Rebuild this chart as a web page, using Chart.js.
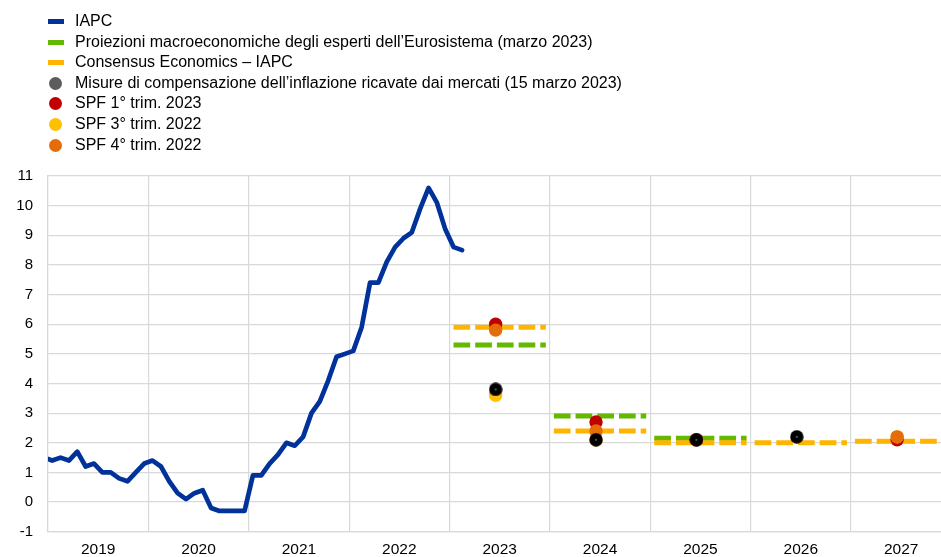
<!DOCTYPE html>
<html><head><meta charset="utf-8">
<script src="https://cdn.jsdelivr.net/npm/chart.js@4.4.1/dist/chart.umd.min.js"></script>
<style>
html,body{margin:0;padding:0;background:#fff;}
#wrap{position:relative;width:941px;height:557px;overflow:hidden;background:#fff;}
#c{position:absolute;left:0;top:0;}
#legend{position:absolute;left:0;top:11px;font-family:'Liberation Sans',Arial,sans-serif;font-size:16px;color:#000;}
.row{position:relative;height:20.6px;line-height:20.6px;white-space:nowrap;}
.mk{position:absolute;}
.txt{position:absolute;left:75px;top:0;}
</style></head><body>
<div id="wrap"><canvas id="c" width="941" height="557"></canvas><div id="legend"></div></div>
<script>
// ---- data ----
const hicpMonths = [
 '2018-12',
 '2019-01','2019-02','2019-03','2019-04','2019-05','2019-06','2019-07','2019-08','2019-09','2019-10','2019-11','2019-12',
 '2020-01','2020-02','2020-03','2020-04','2020-05','2020-06','2020-07','2020-08','2020-09','2020-10','2020-11','2020-12',
 '2021-01','2021-02','2021-03','2021-04','2021-05','2021-06','2021-07','2021-08','2021-09','2021-10','2021-11','2021-12',
 '2022-01','2022-02','2022-03','2022-04','2022-05','2022-06','2022-07','2022-08','2022-09','2022-10','2022-11','2022-12',
 '2023-01','2023-02'];
const hicpValues = [
 1.5,
 1.4,1.5,1.4,1.7,1.2,1.3,1.0,1.0,0.8,0.7,1.0,1.3,
 1.4,1.2,0.7,0.3,0.1,0.3,0.4,-0.2,-0.3,-0.3,-0.3,-0.3,
 0.9,0.9,1.3,1.6,2.0,1.9,2.2,3.0,3.4,4.1,4.9,5.0,
 5.1,5.9,7.4,7.4,8.1,8.6,8.9,9.1,9.9,10.6,10.1,9.2,
 8.6,8.5];

const ecbYears = [2023, 2024, 2025];
const ecbValues = [5.3, 2.9, 2.15];

const consYears = [2023, 2024, 2025, 2026, 2027];
const consValues = [5.9, 2.4, 2.0, 2.0, 2.05];

const marketYears = [2023, 2024, 2025, 2026];
const marketValues = [3.8, 2.1, 2.1, 2.2];

const spfQ123Years = [2023, 2024, 2025, 2027];
const spfQ123Values = [6.0, 2.7, 2.1, 2.1];

const spfQ322Years = [2023, 2024, 2027];
const spfQ322Values = [3.6, 2.1, 2.2];

const spfQ422Years = [2023, 2024, 2027];
const spfQ422Values = [5.8, 2.4, 2.2];

const xTickYears = [2019, 2020, 2021, 2022, 2023, 2024, 2025, 2026, 2027];
const yTicks = [-1, 0, 1, 2, 3, 4, 5, 6, 7, 8, 9, 10, 11];

const labels = {
  hicp: 'IAPC',
  ecb: 'Proiezioni macroeconomiche degli esperti dell\u2019Eurosistema (marzo 2023)',
  cons: 'Consensus Economics \u2013 IAPC',
  market: 'Misure di compensazione dell\u2019inflazione ricavate dai mercati (15 marzo 2023)',
  q123: 'SPF 1\u00b0 trim. 2023',
  q322: 'SPF 3\u00b0 trim. 2022',
  q422: 'SPF 4\u00b0 trim. 2022'
};

// ---- styles ----
const C = {
  hicp: '#003299', ecb: '#65b800', cons: '#ffb400', market: '#000000', marketLegend: '#5c5c5c',
  q123: '#c00000', q322: '#ffc000', q422: '#e46c0a', grid: '#d9d9d9'
};

// ---- build points ----
const hicpPts = hicpMonths.map((m, i) => {
  const [y, mo] = m.split('-').map(Number);
  return {x: y + (mo - 0.5) / 12, y: hicpValues[i]};
});
function segPts(years, vals) {
  const out = [];
  years.forEach((yr, i) => {
    out.push({x: yr + 0.04, y: vals[i]});
    out.push({x: yr + 0.96, y: vals[i]});
    out.push({x: yr + 0.98, y: null});
  });
  return out;
}
function dotPts(years, vals) {
  return years.map((yr, i) => ({x: yr + 0.46, y: vals[i]}));
}

// black market dot with tiny light centre
const blackDot = document.createElement('canvas');
blackDot.width = 14; blackDot.height = 14;
{
  const g = blackDot.getContext('2d');
  g.fillStyle = '#000'; g.beginPath(); g.arc(7, 7, 6.7, 0, Math.PI * 2); g.fill();
  g.fillStyle = '#bbb'; g.beginPath(); g.arc(7, 7, 0.8, 0, Math.PI * 2); g.fill();
}

const FONT = "'Liberation Sans', Arial, sans-serif";
Chart.defaults.font.family = FONT;
Chart.defaults.color = '#000';

const xMin = 2019, xMax = 2027.897;

new Chart(document.getElementById('c'), {
  type: 'line',
  data: {
    datasets: [
      {label: labels.market, data: dotPts(marketYears, marketValues), showLine: false,
       pointStyle: blackDot, pointRadius: 7, backgroundColor: C.market, borderColor: C.market, order: 0},
      {label: labels.q422, data: dotPts(spfQ422Years, spfQ422Values), showLine: false,
       pointStyle: 'circle', pointRadius: 6.7, pointBorderWidth: 0, backgroundColor: C.q422, borderColor: C.q422, order: 1},
      {label: labels.q322, data: dotPts(spfQ322Years, spfQ322Values), showLine: false,
       pointStyle: 'circle', pointRadius: 6.7, pointBorderWidth: 0, backgroundColor: C.q322, borderColor: C.q322, order: 2},
      {label: labels.q123, data: dotPts(spfQ123Years, spfQ123Values), showLine: false,
       pointStyle: 'circle', pointRadius: 6.7, pointBorderWidth: 0, backgroundColor: C.q123, borderColor: C.q123, order: 3},
      {label: labels.cons, data: segPts(consYears, consValues), borderColor: C.cons, borderWidth: 5,
       borderDash: [16.7, 5], borderCapStyle: 'butt', pointRadius: 0, spanGaps: false, tension: 0, order: 4},
      {label: labels.ecb, data: segPts(ecbYears, ecbValues), borderColor: C.ecb, borderWidth: 5,
       borderDash: [16.7, 5], borderCapStyle: 'butt', pointRadius: 0, spanGaps: false, tension: 0, order: 5},
      {label: labels.hicp, data: hicpPts, borderColor: C.hicp, borderWidth: 4.7, pointRadius: 0,
       borderJoinStyle: 'round', borderCapStyle: 'round', tension: 0, order: 6}
    ]
  },
  options: {
    responsive: false,
    animation: false,
    events: [],
    layout: {autoPadding: false, padding: {top: 176, left: 0, right: 0, bottom: 0}},
    plugins: {legend: {display: false}, tooltip: {enabled: false}},
    scales: {
      x: {
        type: 'linear', min: xMin, max: xMax,
        afterBuildTicks: (s) => {
          const t = [];
          xTickYears.forEach(y => { t.push({value: y}); t.push({value: y + 0.5}); });
          s.ticks = t;
        },
        afterFit: (s) => { s.height = 25.3; s.paddingLeft = 0; s.paddingRight = 0; },
        grid: {
          color: (ctx) => (ctx.tick && Math.abs(ctx.tick.value % 1) < 1e-6) ? C.grid : 'rgba(0,0,0,0)',
          lineWidth: 1.2, drawTicks: false
        },
        border: {display: true, color: C.grid, width: 1.2},
        ticks: {
          autoSkip: false, maxRotation: 0, padding: 9, color: '#000',
          font: {size: 15.5, family: FONT},
          callback: (v) => (Math.abs(v % 1 - 0.5) < 1e-6) ? String(Math.floor(v)) : ''
        }
      },
      y: {
        type: 'linear', min: -1, max: 11,
        afterBuildTicks: (s) => { s.ticks = yTicks.map(v => ({value: v})); },
        afterFit: (s) => { s.width = 48; s.paddingTop = 0; s.paddingBottom = 0; },
        grid: {color: C.grid, lineWidth: 1.2, drawTicks: false},
        border: {display: true, color: C.grid, width: 1.2},
        ticks: {padding: 15, color: '#000', font: {size: 15, family: FONT}}
      }
    }
  }
});

// ---- HTML legend ----
const legendItems = [
  {text: labels.hicp, kind: 'line', color: C.hicp},
  {text: labels.ecb, kind: 'line', color: C.ecb},
  {text: labels.cons, kind: 'line', color: C.cons},
  {text: labels.market, kind: 'dot', color: C.marketLegend},
  {text: labels.q123, kind: 'dot', color: C.q123},
  {text: labels.q322, kind: 'dot', color: C.q322},
  {text: labels.q422, kind: 'dot', color: C.q422}
];
const lg = document.getElementById('legend');
legendItems.forEach(it => {
  const row = document.createElement('div'); row.className = 'row';
  const mk = document.createElement('div'); mk.className = 'mk';
  if (it.kind === 'line') {
    Object.assign(mk.style, {left: '48px', width: '16px', height: '5px', top: '8px', background: it.color});
  } else {
    Object.assign(mk.style, {left: '49px', width: '13px', height: '13px', top: '4px', borderRadius: '50%', background: it.color});
  }
  const tx = document.createElement('span'); tx.className = 'txt'; tx.textContent = it.text;
  row.appendChild(mk); row.appendChild(tx); lg.appendChild(row);
});
</script>
</body></html>
